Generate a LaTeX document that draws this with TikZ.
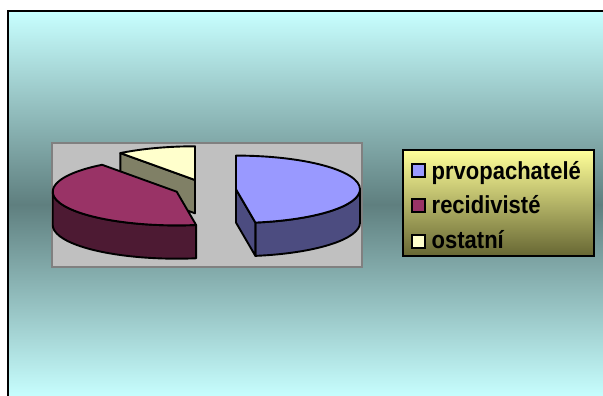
\documentclass[tikz,border=0pt]{standalone}
\usepackage{fontspec}
\setmainfont{Liberation Sans}
\usetikzlibrary{calc}
\definecolor{bgLight}{RGB}{200,255,255}
\definecolor{bgDark}{RGB}{95,127,127}
\definecolor{plotGray}{RGB}{192,192,192}
\definecolor{plotEdge}{RGB}{128,128,128}
\definecolor{blueTop}{RGB}{153,153,255}
\definecolor{blueSide}{RGB}{76,76,128}
\definecolor{marTop}{RGB}{153,51,102}
\definecolor{marSide}{RGB}{77,26,51}
\definecolor{ostTop}{RGB}{255,255,204}
\definecolor{ostSide}{RGB}{128,128,102}
\definecolor{legTop}{RGB}{255,255,153}
\definecolor{legBot}{RGB}{102,102,51}
\tikzset{
  face/.style={draw=black, line width=1.9pt, line join=round},
  legsq/.style={draw=black, line width=1.8pt, minimum size=12.5pt, inner sep=0pt},
  legtxt/.style={anchor=base west, inner sep=0pt, yscale=1.12, font=\fontsize{22}{26}\selectfont\bfseries}
}
\begin{document}
\begin{tikzpicture}[x=1pt,y=1pt]
\useasboundingbox (0,0) rectangle (603,396);
\begin{scope}
\clip (0,0) rectangle (603,396);
% slide frame with gradient
\shade[top color=bgLight, bottom color=bgLight, middle color=bgDark] (8,-2) rectangle (610,385);
\draw[black, line width=2pt] (8,-10) -- (8,385) -- (615,385);
\end{scope}
% plot area
\node[draw=plotEdge, fill=plotGray, line width=2pt, inner sep=0pt, minimum width=309.5pt, minimum height=123.7pt, anchor=south west] (plot) at (51,128.3) {};
% pie geometry
\def\ra{124}\def\rb{33.7}\def\hh{33.3}
\coordinate (C1) at (236,206.7);
\coordinate (C2) at (176.7,204.3);
\coordinate (C3) at (195,216);
% ostatni slice
\filldraw[ostSide, face] (C3) -- ($(C3)+(127:\ra pt and \rb pt)$) -- ++(0,-\hh) -- ($(C3)+(0,-\hh)$) -- cycle;
\filldraw[ostTop, face] (C3) -- ++(90:\ra pt and \rb pt) arc[start angle=90, end angle=127, x radius=\ra, y radius=\rb] -- cycle;
% recidiviste slice
\filldraw[marSide, face] ($(C2)+(180:\ra pt and \rb pt)$) arc[start angle=180, end angle=279, x radius=\ra, y radius=\rb] -- ++(0,-\hh) arc[start angle=279, end angle=180, x radius=\ra, y radius=\rb] -- cycle;
\filldraw[marTop, face] (C2) -- ++(127:\ra pt and \rb pt) arc[start angle=127, end angle=279, x radius=\ra, y radius=\rb] -- cycle;
% prvopachatele slice
\filldraw[blueSide, face] ($(C1)+(0:\ra pt and \rb pt)$) arc[start angle=0, end angle=-81, x radius=\ra, y radius=\rb] -- ++(0,-\hh) arc[start angle=-81, end angle=0, x radius=\ra, y radius=\rb] -- cycle;
\filldraw[blueSide, face] (C1) -- ($(C1)+(-81:\ra pt and \rb pt)$) -- ++(0,-\hh) -- ($(C1)+(0,-\hh)$) -- cycle;
\filldraw[blueTop, face] (C1) -- ++(90:\ra pt and \rb pt) arc[start angle=90, end angle=-81, x radius=\ra, y radius=\rb] -- cycle;
% legend
\node[draw=black, line width=2pt, top color=legTop, bottom color=legBot, inner sep=0pt, minimum width=191pt, minimum height=106pt, anchor=south west] (legend) at (401.5,138.5) {};
\node[legsq, fill=blueTop] (sq1) at (418.5,225.5) {};
\node[legsq, fill=marTop] (sq2) at (418.5,190.5) {};
\node[legsq, fill=ostTop] (sq3) at (418.5,154.5) {};
\node[legtxt] (t1) at (431.5,216.7) {prvopachatelé};
\node[legtxt] (t2) at (431.5,182.7) {recidivisté};
\node[legtxt] (t3) at (431.5,147) {ostatní};
\end{tikzpicture}
\end{document}
